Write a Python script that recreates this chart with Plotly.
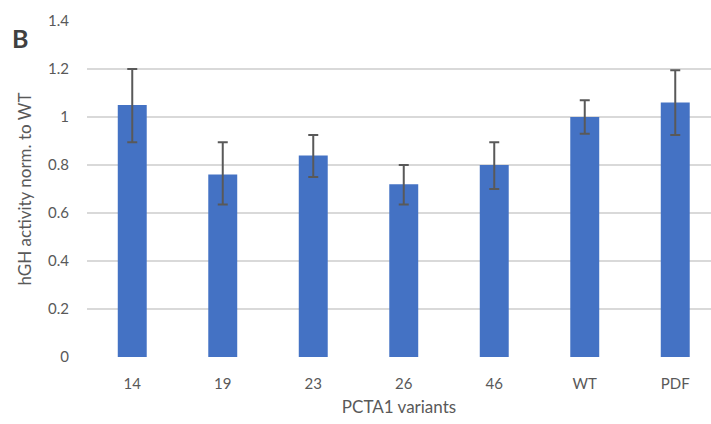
import plotly.graph_objects as go

categories = ["14", "19", "23", "26", "46", "WT", "PDF"]
values = [1.05, 0.76, 0.84, 0.72, 0.80, 1.00, 1.06]
err_plus = [0.15, 0.135, 0.085, 0.08, 0.095, 0.07, 0.135]
err_minus = [0.155, 0.125, 0.09, 0.085, 0.10, 0.07, 0.135]
y_ticks = [0, 0.2, 0.4, 0.6, 0.8, 1, 1.2, 1.4]
y_tick_labels = ["0", "0.2", "0.4", "0.6", "0.8", "1", "1.2", "1.4"]

font_fam = "Lato, Open Sans, sans-serif"
fig = go.Figure()
fig.add_trace(go.Bar(
    x=list(range(len(categories))), y=values, width=0.32,
    marker=dict(color="#4472C4", line=dict(width=0)),
    error_y=dict(type="data", symmetric=False, array=err_plus, arrayminus=err_minus,
                 color="#595959", thickness=2, width=5),
))
fig.update_layout(
    width=711, height=424, margin=dict(l=87, r=0, t=21, b=67),
    plot_bgcolor="white", paper_bgcolor="white", showlegend=False,
    font=dict(family=font_fam, color="#595959", size=15),
    xaxis=dict(range=[-0.5, 6.395], tickvals=list(range(len(categories))), ticktext=categories,
               showgrid=False, zeroline=False, showline=False, ticks="",
               ticklabelstandoff=16,
               title=dict(text="PCTA1 variants", font=dict(size=17, color="#595959"), standoff=10)),
    yaxis=dict(range=[0, 1.4], tickvals=y_ticks, ticktext=y_tick_labels,
               showgrid=True, gridcolor="#D9D9D9", gridwidth=1.5, zeroline=False, ticks="",
               ticklabelstandoff=17,
               title=dict(text="hGH activity norm. to WT", font=dict(size=17, color="#595959"), standoff=12)),
)
fig.add_annotation(text="<b>B</b>", xref="paper", yref="paper", x=-(87-10)/624, y=1.0,
                   xanchor="left", yanchor="top", showarrow=False,
                   font=dict(size=25, color="#404040", family=font_fam))
fig.write_html("out.html")
